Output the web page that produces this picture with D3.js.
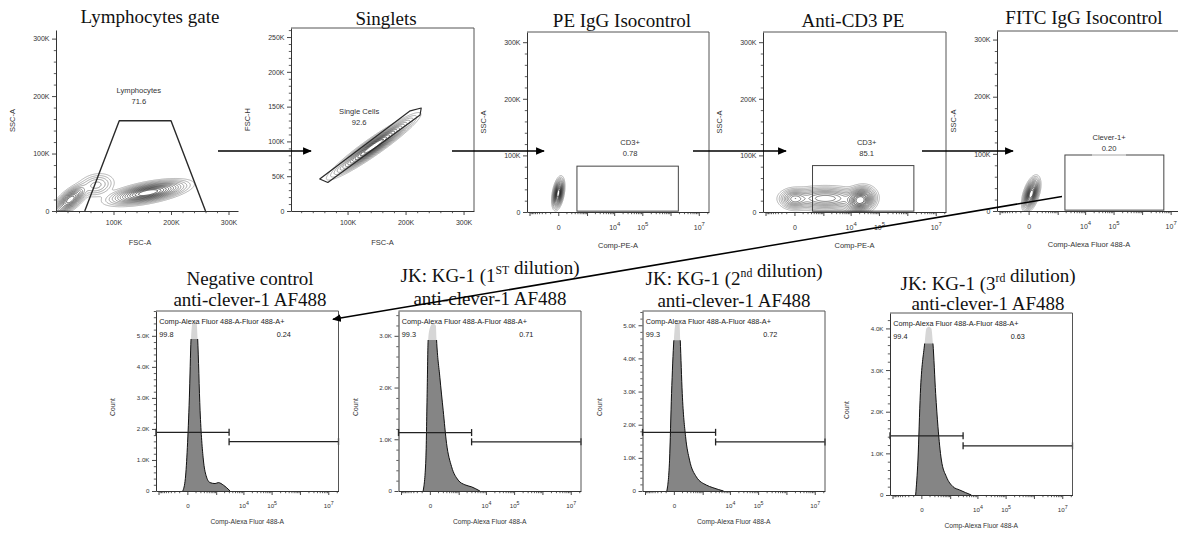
<!DOCTYPE html>
<html><head><meta charset="utf-8">
<script src="https://d3js.org/d3.v7.min.js"></script>
<style>html,body{margin:0;padding:0;background:#fff;}svg{display:block;}</style>
</head><body>
<svg id="chart" width="1178" height="535" xmlns="http://www.w3.org/2000/svg"></svg>
<script>
// ================= DATA =================
// --- top row: gating strategy ---
const topTitles = ["Lymphocytes gate", "Singlets", "PE IgG Isocontrol", "Anti-CD3 PE", "FITC IgG Isocontrol"];
const topXTitles = ["FSC-A", "FSC-A", "Comp-PE-A", "Comp-PE-A", "Comp-Alexa Fluor 488-A"];
const topYTitles = ["SSC-A", "FSC-H", "SSC-A", "SSC-A", "SSC-A"];
const topGateNames = ["Lymphocytes", "Single Cells", "CD3+", "CD3+", "Clever-1+"];
const topGatePcts = ["71.6", "92.6", "0.78", "85.1", "0.20"];
const topXMin = [0, 2500, -1250, -1250, -1250];
const topXMax = [316500, 318000, 2.3e7, 2.3e7, 2.3e7];
const topYMax = [315000, 263000, 318000, 318000, 315000];

const linXTicks = [100000, 200000, 300000];
const linXTickLabels = ["100K", "200K", "300K"];
const sscTicks = [0, 100000, 200000, 300000];
const sscTickLabels = ["0", "100K", "200K", "300K"];
const fscHTicks = [0, 50000, 100000, 150000, 200000, 250000];
const fscHTickLabels = ["0", "50K", "100K", "150K", "200K", "250K"];
const logTicks = [-1000, 0, 1000, 10000, 100000, 1000000, 10000000];
const logTickLabels = ["", "0", "", "10^4", "10^5", "", "10^7"];

// gates (data units)
const lymphGate = [[50000, 0], [110000, 157000], [200000, 157000], [260000, 0]];
const singletGate = [[52000, 46000], [66000, 41000], [225000, 138000], [227000, 148000], [208000, 144000]];
const peIsoGate = [380, 1890000, 1500, 81000];      // xMin, xMax, yMin, yMax
const cd3Gate = [353, 1700000, 1500, 82000];
const fitcIsoGate = [1877, 5760000, 1500, 98000];

// population density models: [x, y, spreadX, spreadY, correlation, weight]
const lymphPops = [[25000, 20000, 11.4, 10.1, 0.68, 0.7], [160000, 32000, 26.6, 8.1, 0.59, 1.0], [70000, 45000, 14, 9, 0.2, 0.12]];
const singletPops = [[145000, 93000, 26.9, 16, 0.95, 1.0]];
const peIsoPops = [[0, 33000, 0.18, 10.3, 0.4, 1.0]];
const cd3Pops = [[22000, 21000, 0.5, 9.5, 0.15, 1.0], [0, 23000, 0.5, 7.5, 0.0, 0.35], [1200, 24000, 1.3, 8.5, 0.0, 0.4]];
const fitcIsoPops = [[25, 30000, 0.26, 11, 0.5, 1.0]];

// --- bottom row: histograms ---
const histTitle1 = ["Negative control", "JK: KG-1 (1^{ST} dilution)", "JK: KG-1 (2^{nd} dilution)", "JK: KG-1 (3^{rd}  dilution)"];
const histTitle2 = ["anti-clever-1 AF488", "anti-clever-1 AF488", "anti-clever-1 AF488", "anti-clever-1 AF488"];
const histXTitle = "Comp-Alexa Fluor 488-A";
const histGateName = "Comp-Alexa Fluor 488-A-Fluor 488-A+";

const histXNeg = [-48, -18.7, 0, 18.7, 37, 53, 81, 120, 139, 192, 284, 379, 566, 903, 1215, 1877, 3320];
const histCountNeg = [0, 400, 1400, 3000, 4900, 5400, 5500, 5400, 4900, 2600, 1000, 500, 270, 240, 270, 190, 0];
const histXDil1 = [-77, -40.8, -26, -15.7, 0, 29.3, 66.7, 77, 133, 207, 306, 514, 954, 1722, 3048, 6090];
const histCountDil1 = [0, 600, 1890, 2920, 3150, 3240, 3200, 2920, 2200, 1560, 920, 470, 210, 120, 80, 0];
const histXDil2 = [-81.4, -44.4, -21.8, 0, 15.7, 37, 62.5, 72.4, 104, 169, 274, 550, 1374, 2425, 5940];
const histCountDil2 = [0, 930, 2940, 4550, 5050, 5100, 5050, 4550, 2940, 1640, 930, 430, 180, 100, 0];
const histXDil3 = [-62.5, -33.8, -9, 32.7, 53, 89, 133, 166, 233, 303, 434, 704, 1281, 2285, 6090];
const histCountDil3 = [0, 840, 2440, 3640, 4000, 4040, 4000, 3640, 2440, 1640, 840, 440, 200, 120, 0];

const histPeakCap = [4900, 2920, 4550, 3640];
const histYMax = [5800, 3480, 5430, 4370];
const histYTicks = [[0, 1000, 2000, 3000, 4000, 5000], [0, 1000, 2000, 3000], [0, 1000, 2000, 3000, 4000, 5000], [0, 1000, 2000, 3000, 4000]];
const histYTickLabels = [["0", "1.0K", "2.0K", "3.0K", "4.0K", "5.0K"], ["0", "1.0K", "2.0K", "3.0K"], ["0", "1.0K", "2.0K", "3.0K", "4.0K", "5.0K"], ["0", "1.0K", "2.0K", "3.0K", "4.0K"]];
const histGateSplit = 3050;
const histGateNegLevel = [1890, 1130, 1770, 1420];
const histGatePosLevel = [1590, 950, 1480, 1180];
const histPctNeg = ["99.8", "99.3", "99.3", "99.4"];
const histPctPos = ["0.24", "0.71", "0.72", "0.63"];

// ================= LAYOUT =================
const topLayout = [
  {left: 56, right: 238, top: 30, bottom: 211, box: false, titleX: 150, titleY: 23, xTitleX: 140, log: false, pad: 5},
  {left: 291, right: 474, top: 28, bottom: 211, box: true, titleX: 386, titleY: 25, log: false, pad: 5},
  {left: 527, right: 709, top: 32, bottom: 212, box: true, titleX: 622, titleY: 27, log: true, pad: 9},
  {left: 763, right: 946, top: 32, bottom: 212, box: true, titleX: 853, titleY: 27, log: true, pad: 9},
  {left: 997, right: 1181, top: 31, bottom: 211, box: true, titleX: 1084, titleY: 24, log: true, pad: 9}
];
const botLayout = [
  {left: 156, right: 338.5, top: 311, bottom: 491, titleX: 250, t1: 285, t2: 306},
  {left: 398.5, right: 581, top: 311, bottom: 491, titleX: 490, t1: 282, t2: 305},
  {left: 642.5, right: 825, top: 311, bottom: 491, titleX: 734, t1: 285, t2: 307},
  {left: 890, right: 1072.5, top: 313, bottom: 495, titleX: 988, t1: 289.5, t2: 310}
];
const arrows = [[218, 151, 311, 151], [452, 151, 544, 151], [693, 151, 786, 151], [922, 151, 1013, 151], [1062, 196.5, 333, 319.3]];

// ================= RENDER =================
const svg = d3.select("#chart");
const SANS = "'Liberation Sans', Arial, Helvetica, sans-serif";
const SERIF = "'Liberation Serif', 'Times New Roman', serif";
const LOGC = 106;
const INK = "#333";
const defs = svg.append("defs");
defs.append("marker").attr("id", "ah").attr("viewBox", "0 0 10 10").attr("refX", 9).attr("refY", 5)
  .attr("markerWidth", 5.5).attr("markerHeight", 5.5).attr("orient", "auto")
  .append("path").attr("d", "M0,0.6L10,5L0,9.4Z").attr("fill", "#000");
svg.append("rect").attr("width", 1178).attr("height", 535).attr("fill", "#fff");

let clipN = 0;
function clip(x, y, w, h) {
  const id = "cl" + (clipN++);
  defs.append("clipPath").attr("id", id).append("rect").attr("x", x).attr("y", y).attr("width", w).attr("height", h);
  return `url(#${id})`;
}
function styleAxis(sel, fs) {
  sel.select(".domain").attr("stroke", INK).attr("stroke-width", 1);
  sel.selectAll(".tick line").attr("stroke", INK).attr("stroke-width", 0.9);
  sel.selectAll(".tick text").attr("fill", INK).attr("font-family", SANS).attr("font-size", fs);
  sel.selectAll(".tick text").each(function () {
    const t = d3.select(this), s = t.text(), m = s.match(/^10\^(\d+)$/);
    if (m) {
      t.text(null);
      t.append("tspan").text("10");
      t.append("tspan").attr("dy", "-0.6em").attr("font-size", fs * 0.85).text(m[1]);
    }
  });
}
function logMinors(min, max) {
  const a = [];
  for (let v = -900; v <= 900; v += 100) if (v !== 0) a.push(v);
  for (let d = 3; d <= 7; d++) for (let m = 2; m < 10; m++) { const v = m * Math.pow(10, d); if (v < max) a.push(v); }
  return a.filter(v => v > min && v < max);
}
function linMinors(step, min, max, majors) {
  const a = [];
  for (let v = Math.ceil(min / step) * step; v <= max; v += step) if (!majors.includes(v)) a.push(v);
  return a;
}
function xAxis(g, scale, y, majors, labels, minors, fs, pad) {
  const a = g.append("g").attr("transform", `translate(0,${y})`)
    .call(d3.axisBottom(scale).tickValues(majors).tickFormat((d, i) => labels[i]).tickSize(4).tickSizeOuter(0).tickPadding(pad));
  styleAxis(a, fs);
  const m = g.append("g").attr("transform", `translate(0,${y})`)
    .call(d3.axisBottom(scale).tickValues(minors).tickFormat("").tickSize(2.2).tickSizeOuter(0));
  m.select(".domain").remove();
  m.selectAll(".tick line").attr("stroke", INK).attr("stroke-width", 0.8);
}
function yAxis(g, scale, x, majors, labels, minors, fs) {
  const a = g.append("g").attr("transform", `translate(${x},0)`)
    .call(d3.axisLeft(scale).tickValues(majors).tickFormat((d, i) => labels[i]).tickSize(4).tickSizeOuter(0).tickPadding(2.5));
  styleAxis(a, fs);
  const m = g.append("g").attr("transform", `translate(${x},0)`)
    .call(d3.axisLeft(scale).tickValues(minors).tickFormat("").tickSize(2.2).tickSizeOuter(0));
  m.select(".domain").remove();
  m.selectAll(".tick line").attr("stroke", INK).attr("stroke-width", 0.8);
}
const Tlin = v => v / 1000;
const Tlog = v => Math.sign(v) * Math.log1p(Math.abs(v) / LOGC);
const contourLevels = [0.01, 0.022, 0.04, 0.065, 0.1, 0.14, 0.19, 0.25, 0.32, 0.4, 0.49, 0.59, 0.7, 0.82];

function drawContours(g, L, xs, ys, xT, yT, pops) {
  const w = Math.round(L.right - L.left), h = Math.round(L.bottom - L.top);
  const vals = new Float64Array(w * h);
  const bs = pops.map(b => ({x: xT(b[0]), y: yT(b[1]), sx: b[2], sy: b[3], r: b[4], w: b[5]}));
  let max = 0;
  for (let j = 0; j < h; j++) {
    const vy = yT(ys.invert(L.top + j + 0.5));
    for (let i = 0; i < w; i++) {
      const vx = xT(xs.invert(L.left + i + 0.5));
      let s = 0;
      for (const b of bs) {
        const dx = (vx - b.x) / b.sx, dy = (vy - b.y) / b.sy;
        const q = (dx * dx - 2 * b.r * dx * dy + dy * dy) / (1 - b.r * b.r);
        s += b.w * Math.exp(-0.5 * q);
      }
      vals[j * w + i] = s;
      if (s > max) max = s;
    }
  }
  const conts = d3.contours().size([w, h]).thresholds(contourLevels.map(l => l * max))(vals);
  const col = d3.scaleLinear().domain([0, conts.length - 1]).range(["#8e8e8e", "#000"]);
  const outer = g.append("g").attr("clip-path", clip(L.left, L.top, w, h));
  outer.append("g").attr("transform", `translate(${L.left},${L.top})`)
    .selectAll("path").data(conts).join("path")
    .attr("d", d3.geoPath()).attr("fill", "none")
    .attr("stroke", (d, i) => col(i)).attr("stroke-width", 0.65);
}

// ----- top row -----
const topPops = [lymphPops, singletPops, peIsoPops, cd3Pops, fitcIsoPops];
const rectGates = [null, null, peIsoGate, cd3Gate, fitcIsoGate];
const gateLabelAt = [[144000, 206000], [120000, 140000], [37000, 117500], [37000, 117500], [69300, 125000]];
topLayout.forEach((L, k) => {
  const g = svg.append("g");
  const xs = L.log
    ? d3.scaleSymlog().constant(LOGC).domain([topXMin[k], topXMax[k]]).range([L.left, L.right])
    : d3.scaleLinear().domain([topXMin[k], topXMax[k]]).range([L.left, L.right]);
  const ys = d3.scaleLinear().domain([0, topYMax[k]]).range([L.bottom, L.top]);
  drawContours(g, L, xs, ys, L.log ? Tlog : Tlin, Tlin, topPops[k]);

  // gates
  if (k === 0 || k === 1) {
    const poly = k === 0 ? lymphGate : singletGate;
    g.append("path").attr("d", (k === 0 ? d3.line() : d3.line().curve(d3.curveLinearClosed))
      .x(d => xs(d[0])).y(d => ys(d[1]))(poly))
      .attr("fill", "none").attr("stroke", "#2a2a2a").attr("stroke-width", k === 0 ? 1.4 : 1.2).attr("stroke-linejoin", "round");
  } else {
    const r = rectGates[k];
    g.append("rect").attr("x", xs(r[0])).attr("y", ys(r[3])).attr("width", xs(r[1]) - xs(r[0])).attr("height", ys(r[2]) - ys(r[3]))
      .attr("fill", "none").attr("stroke", "#444").attr("stroke-width", 1);
    if (k === 4) {
      const cx = xs(gateLabelAt[k][0]);
      g.append("line").attr("x1", cx - 17).attr("x2", cx + 17).attr("y1", ys(r[3])).attr("y2", ys(r[3]))
        .attr("stroke", "#e2e2e2").attr("stroke-width", 1.3);
    }
  }
  const lx = xs(gateLabelAt[k][0]), ly = ys(gateLabelAt[k][1]);
  g.append("text").attr("x", lx).attr("y", ly).attr("text-anchor", "middle").attr("font-family", SANS).attr("font-size", 7.6).attr("fill", INK).text(topGateNames[k]);
  g.append("text").attr("x", lx).attr("y", ly + 11).attr("text-anchor", "middle").attr("font-family", SANS).attr("font-size", 7.6).attr("fill", INK).text(topGatePcts[k]);

  // axes
  if (L.log) xAxis(g, xs, L.bottom, logTicks, logTickLabels, logMinors(topXMin[k], topXMax[k]), 7, L.pad);
  else xAxis(g, xs, L.bottom, linXTicks, linXTickLabels, linMinors(20000, topXMin[k], topXMax[k], linXTicks), 7, L.pad);
  if (k === 1) yAxis(g, ys, L.left, fscHTicks, fscHTickLabels, linMinors(10000, 0, topYMax[k], fscHTicks), 7);
  else yAxis(g, ys, L.left, sscTicks, sscTickLabels, linMinors(20000, 0, topYMax[k], sscTicks), 7);
  if (L.box) {
    g.append("path").attr("d", `M${L.left},${L.top}H${L.right}V${L.bottom}`).attr("fill", "none").attr("stroke", "#555").attr("stroke-width", 1);
  }
  // titles
  g.append("text").attr("x", L.titleX).attr("y", L.titleY).attr("text-anchor", "middle").attr("font-family", SERIF).attr("font-size", 19).attr("fill", "#111").text(topTitles[k]);
  g.append("text").attr("x", L.xTitleX || (L.left + L.right) / 2).attr("y", L.bottom + (L.log ? 36 : 34)).attr("text-anchor", "middle")
    .attr("font-family", SANS).attr("font-size", 7.5).attr("fill", INK).text(topXTitles[k]);
  const yx = L.left - 44, yy = (L.top + L.bottom) / 2;
  g.append("text").attr("transform", `translate(${yx},${yy}) rotate(-90)`).attr("text-anchor", "middle").attr("dy", "0.35em")
    .attr("font-family", SANS).attr("font-size", 7.5).attr("fill", INK).text(topYTitles[k]);
});

// ----- bottom row -----
const histX = [histXNeg, histXDil1, histXDil2, histXDil3];
const histCount = [histCountNeg, histCountDil1, histCountDil2, histCountDil3];
function richText(t, s, fs) {
  const parts = s.split(/(\^\{[^}]*\})/);
  parts.forEach(p => {
    const m = p.match(/^\^\{([^}]*)\}$/);
    if (m) {
      t.append("tspan").attr("font-size", fs * 0.62).attr("dy", -fs * 0.4).text(m[1]);
      t.append("tspan").attr("dy", fs * 0.4).text("");
    } else if (p.length) {
      t.append("tspan").text(p);
    }
  });
}
botLayout.forEach((L, k) => {
  const g = svg.append("g");
  const xs = d3.scaleSymlog().constant(LOGC).domain([-1250, 2.3e7]).range([L.left, L.right]);
  const ys = d3.scaleLinear().domain([0, histYMax[k]]).range([L.bottom, L.top]);
  const pts = d3.zip(histX[k], histCount[k]);
  const area = d3.area().x(d => xs(d[0])).y0(ys(0)).y1(d => ys(d[1])).curve(d3.curveMonotoneX);
  const line = d3.line().x(d => xs(d[0])).y(d => ys(d[1])).curve(d3.curveMonotoneX);
  const capY = ys(histPeakCap[k]);
  const capClip = clip(L.left, capY, L.right - L.left, L.bottom - capY + 2);
  g.append("path").attr("d", area(pts)).attr("fill", "#d6d6d6");
  g.append("path").attr("d", area(pts)).attr("fill", "#858585").attr("clip-path", capClip);
  g.append("path").attr("d", line(pts)).attr("fill", "none").attr("stroke", "#111").attr("stroke-width", 1).attr("clip-path", capClip);

  // gates
  const xMin = xs.domain()[0], xMax = xs.domain()[1];
  const gates = [[xMin, histGateSplit, histGateNegLevel[k]], [histGateSplit, xMax, histGatePosLevel[k]]];
  gates.forEach(gt => {
    const y = ys(gt[2]);
    g.append("line").attr("x1", xs(gt[0])).attr("x2", xs(gt[1])).attr("y1", y).attr("y2", y).attr("stroke", "#222").attr("stroke-width", 1.3);
    [gt[0], gt[1]].forEach(v => g.append("line").attr("x1", xs(v)).attr("x2", xs(v)).attr("y1", y - 3.5).attr("y2", y + 3.5).attr("stroke", "#222").attr("stroke-width", 1.3));
  });
  g.append("text").attr("x", L.left + 3.3).attr("y", L.top + 12.8).attr("font-family", SANS).attr("font-size", 7.3).attr("fill", "#222").text(histGateName);
  g.append("text").attr("x", L.left + 3.3).attr("y", L.top + 25.8).attr("font-family", SANS).attr("font-size", 7.3).attr("fill", "#222").text(histPctNeg[k]);
  g.append("text").attr("x", (xs(histGateSplit) + L.right) / 2).attr("y", L.top + 25.8).attr("text-anchor", "middle")
    .attr("font-family", SANS).attr("font-size", 7.3).attr("fill", "#222").text(histPctPos[k]);

  xAxis(g, xs, L.bottom, logTicks, logTickLabels, logMinors(-1250, 2.3e7), 6.2, 9);
  yAxis(g, ys, L.left, histYTicks[k], histYTickLabels[k], linMinors(200, 0, histYMax[k], histYTicks[k]), 6.2);
  g.append("path").attr("d", `M${L.left},${L.top}H${L.right}V${L.bottom}`).attr("fill", "none").attr("stroke", "#555").attr("stroke-width", 1);

  // titles
  const t1 = g.append("text").attr("x", L.titleX).attr("y", L.t1).attr("text-anchor", "middle").attr("font-family", SERIF).attr("font-size", 19).attr("fill", "#111");
  richText(t1, histTitle1[k], 19);
  g.append("text").attr("x", L.titleX).attr("y", L.t2).attr("text-anchor", "middle").attr("font-family", SERIF).attr("font-size", 19).attr("fill", "#111").text(histTitle2[k]);
  g.append("text").attr("x", (L.left + L.right) / 2).attr("y", L.bottom + 33).attr("text-anchor", "middle")
    .attr("font-family", SANS).attr("font-size", 6.7).attr("fill", INK).text(histXTitle);
  g.append("text").attr("transform", `translate(${L.left - 43},${(L.top + L.bottom) / 2 + 6}) rotate(-90)`).attr("text-anchor", "middle").attr("dy", "0.35em")
    .attr("font-family", SANS).attr("font-size", 6.7).attr("fill", INK).text("Count");
});

// ----- arrows -----
svg.append("g").selectAll("line").data(arrows).join("line")
  .attr("x1", d => d[0]).attr("y1", d => d[1]).attr("x2", d => d[2]).attr("y2", d => d[3])
  .attr("stroke", "#000").attr("stroke-width", 1.6).attr("marker-end", "url(#ah)");
</script>
</body></html>
